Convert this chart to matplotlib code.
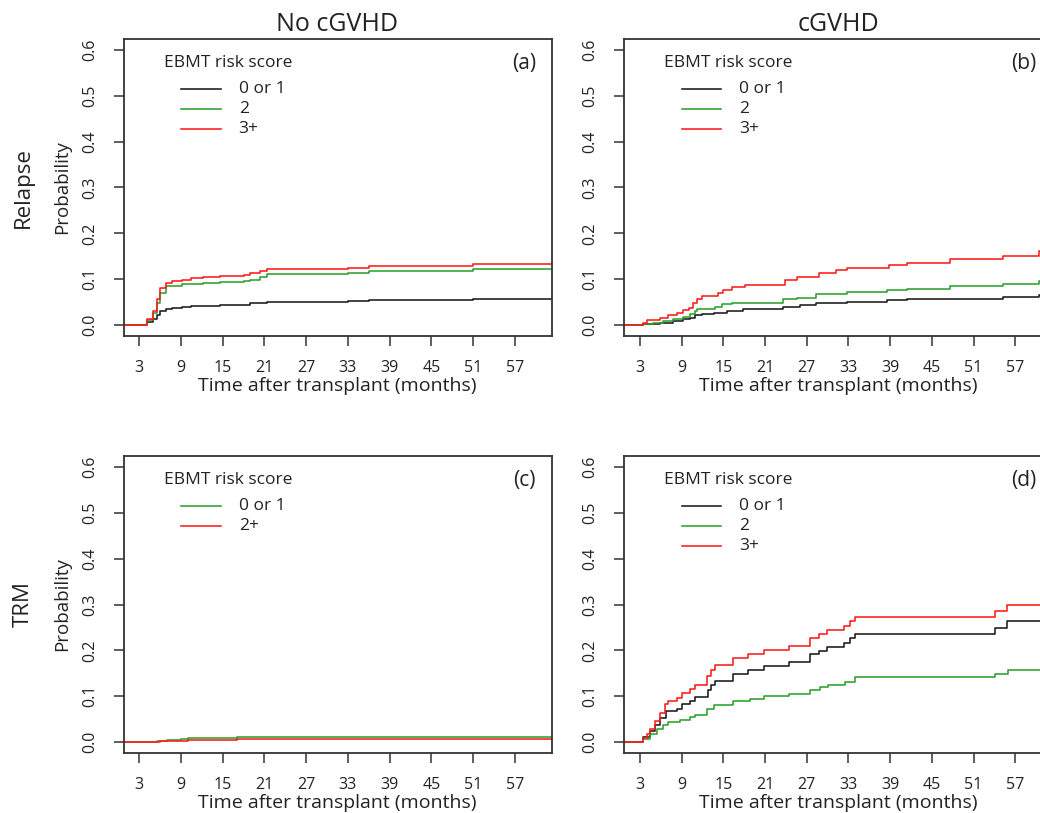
import numpy as np
import matplotlib
matplotlib.use("Agg")
import matplotlib.pyplot as plt

plt.rcParams['font.family'] = ['Open Sans', 'DejaVu Sans']

# cumulative incidence step curves: (months, probability)
# (a) relapse, no cGVHD
rel_no_t0 = [0, 3.35, 4.06, 5.0, 5.5, 6.0, 6.9, 7.7, 9.1, 10.5, 12.2, 14.6, 18.0, 18.9, 20.4, 21.3, 33.0, 36.0, 51.0, 63]
rel_no_v0 = [0, 0.0, 0.007, 0.012, 0.021, 0.030, 0.035, 0.038, 0.040, 0.041, 0.042, 0.043, 0.044, 0.047, 0.049, 0.051, 0.052, 0.054, 0.056, 0.056]
rel_no_t2 = [0, 3.35, 4.06, 5.0, 5.5, 6.0, 6.9, 7.7, 9.1, 10.5, 12.2, 14.6, 18.0, 18.9, 20.4, 21.3, 33.0, 36.0, 51.0, 63]
rel_no_v2 = [0, 0.0, 0.010, 0.026, 0.048, 0.070, 0.084, 0.085, 0.089, 0.090, 0.092, 0.094, 0.095, 0.098, 0.104, 0.111, 0.114, 0.117, 0.122, 0.122]
rel_no_t3 = [0, 3.35, 4.06, 5.0, 5.5, 6.0, 6.9, 7.7, 9.1, 10.5, 12.2, 14.6, 18.0, 18.9, 20.4, 21.3, 33.0, 36.0, 51.0, 63]
rel_no_v3 = [0, 0.0, 0.012, 0.030, 0.056, 0.081, 0.092, 0.095, 0.099, 0.103, 0.104, 0.106, 0.110, 0.114, 0.118, 0.122, 0.125, 0.128, 0.133, 0.133]

# (b) relapse, cGVHD
rel_cg_t0 = [0, 3.4, 5.9, 7.8, 9.2, 10.2, 10.9, 11.9, 13.6, 15.5, 17.9, 23.6, 26.0, 28.4, 32.8, 38.5, 41.4, 47.6, 55.3, 60.4, 63]
rel_cg_v0 = [0, 0.002, 0.005, 0.009, 0.012, 0.016, 0.021, 0.023, 0.027, 0.030, 0.034, 0.039, 0.043, 0.047, 0.050, 0.054, 0.056, 0.057, 0.061, 0.065, 0.065]
rel_cg_t2 = [0, 3.4, 4.9, 6.4, 7.8, 9.2, 10.2, 10.9, 11.2, 13.8, 14.8, 16.2, 23.6, 25.6, 28.4, 32.8, 38.5, 41.4, 47.6, 55.3, 60.4, 63]
rel_cg_v2 = [0, 0.003, 0.005, 0.009, 0.012, 0.017, 0.023, 0.030, 0.034, 0.040, 0.045, 0.048, 0.056, 0.059, 0.068, 0.072, 0.076, 0.079, 0.085, 0.090, 0.096, 0.096]
rel_cg_t3 = [0, 3.4, 4.1, 5.9, 7.1, 8.3, 9.2, 10.0, 10.7, 11.2, 11.9, 14.3, 15.0, 16.2, 18.1, 23.9, 25.6, 28.7, 31.2, 32.8, 38.8, 41.4, 47.6, 55.3, 60.4, 63]
rel_cg_v3 = [0, 0.005, 0.011, 0.016, 0.021, 0.027, 0.032, 0.038, 0.048, 0.056, 0.063, 0.070, 0.076, 0.083, 0.088, 0.098, 0.104, 0.114, 0.119, 0.124, 0.130, 0.135, 0.143, 0.151, 0.161, 0.161]

# (c) TRM, no cGVHD
trm_no_t0 = [0, 5.5, 7.0, 9.0, 10.0, 17.0, 63]
trm_no_v0 = [0, 0.002, 0.004, 0.007, 0.008, 0.012, 0.012]
trm_no_t2 = [0, 6.0, 8.0, 10.0, 17.0, 63]
trm_no_v2 = [0, 0.002, 0.003, 0.005, 0.006, 0.006]

# (d) TRM, cGVHD
trm_cg_t0 = [0, 3.5, 4.4, 5.2, 5.9, 6.8, 8.3, 9.0, 10.2, 10.9, 12.8, 13.3, 13.8, 16.4, 18.6, 20.8, 24.4, 27.5, 28.7, 29.9, 32.3, 33.2, 34.0, 54.1, 55.8, 63]
trm_cg_v0 = [0, 0.010, 0.024, 0.038, 0.053, 0.067, 0.072, 0.082, 0.089, 0.099, 0.114, 0.125, 0.134, 0.149, 0.158, 0.165, 0.174, 0.191, 0.199, 0.207, 0.217, 0.227, 0.236, 0.249, 0.263, 0.263]
trm_cg_t2 = [0, 3.5, 4.4, 5.4, 6.4, 7.1, 8.8, 10.2, 10.9, 12.6, 13.6, 16.4, 18.8, 20.8, 24.4, 27.5, 28.9, 30.1, 32.5, 34.0, 54.1, 56.0, 63]
trm_cg_v2 = [0, 0.006, 0.017, 0.028, 0.038, 0.043, 0.049, 0.054, 0.060, 0.071, 0.080, 0.089, 0.094, 0.100, 0.105, 0.114, 0.120, 0.125, 0.131, 0.141, 0.149, 0.158, 0.158]
trm_cg_t3 = [0, 3.5, 4.0, 4.4, 5.2, 5.9, 6.6, 7.1, 8.3, 9.0, 10.2, 10.9, 12.6, 13.3, 13.8, 16.4, 18.6, 20.8, 24.4, 27.5, 28.7, 29.9, 32.3, 33.2, 34.0, 54.1, 55.8, 63]
trm_cg_v3 = [0, 0.008, 0.017, 0.029, 0.046, 0.064, 0.082, 0.089, 0.096, 0.107, 0.116, 0.125, 0.143, 0.158, 0.167, 0.183, 0.192, 0.201, 0.209, 0.227, 0.236, 0.245, 0.254, 0.263, 0.272, 0.285, 0.298, 0.298]

BLACK = '#1a1a1a'
GREEN = '#2ca02c'
RED = '#ff1a1a'
TXT = '#222222'

x_ticks = np.arange(3, 58, 6)
y_ticks = np.round(np.arange(0, 0.61, 0.1), 1)

fig = plt.figure(figsize=(10.4, 8.13), dpi=100)

W, H = 1040.0, 813.0
def box(x0, y0, x1, y1):
    return [x0 / W, (H - y1) / H, (x1 - x0) / W, (y1 - y0) / H]

ax_a = fig.add_axes(box(123.5, 39, 551.5, 336))
ax_b = fig.add_axes(box(624, 39, 1052, 336))
ax_c = fig.add_axes(box(123.5, 456, 551.5, 753))
ax_d = fig.add_axes(box(624, 456, 1052, 753))

panels = [
    (ax_a, '(a)', [(rel_no_t0, rel_no_v0, BLACK, '0 or 1'), (rel_no_t2, rel_no_v2, GREEN, '2'), (rel_no_t3, rel_no_v3, RED, '3+')]),
    (ax_b, '(b)', [(rel_cg_t0, rel_cg_v0, BLACK, '0 or 1'), (rel_cg_t2, rel_cg_v2, GREEN, '2'), (rel_cg_t3, rel_cg_v3, RED, '3+')]),
    (ax_c, '(c)', [(trm_no_t0, trm_no_v0, GREEN, '0 or 1'), (trm_no_t2, trm_no_v2, RED, '2+')]),
    (ax_d, '(d)', [(trm_cg_t0, trm_cg_v0, BLACK, '0 or 1'), (trm_cg_t2, trm_cg_v2, GREEN, '2'), (trm_cg_t3, trm_cg_v3, RED, '3+')]),
]

# key rows, in axes fraction (R-style legend: title then indented line + label)
key_rows = [0.832, 0.764, 0.697]

for ax, tag, curves in panels:
    for i, (t, v, col, lab) in enumerate(curves):
        ax.plot(t, v, drawstyle='steps-post', color=col, lw=1.15)
        ky = key_rows[i]
        ax.plot([0.1355, 0.227], [ky, ky], transform=ax.transAxes, color=col, lw=1.15)
        ax.text(0.269, ky, lab, transform=ax.transAxes, ha='left', va='center', fontsize=12.5, color=TXT)
    ax.set_xlim(0.72, 62.28)
    ax.set_ylim(-0.024, 0.624)
    ax.set_xticks(x_ticks)
    ax.set_yticks(y_ticks)
    ax.set_yticklabels(['%.1f' % y for y in y_ticks], rotation=90, va='center')
    ax.tick_params(axis='both', direction='out', length=7, width=1.1, colors='#333333',
                   labelcolor=TXT, labelsize=11.5)
    ax.tick_params(axis='y', pad=11.5)
    ax.tick_params(axis='x', pad=10)
    for s in ax.spines.values():
        s.set_linewidth(1.3)
        s.set_color('#333333')
    ax.set_xlabel('Time after transplant (months)', fontsize=14, color=TXT)
    ax.xaxis.set_label_coords(0.5, -0.168)
    ax.xaxis.label.set_va('center')
    ax.text(0.964, 0.919, tag, transform=ax.transAxes, ha='right', va='center', fontsize=15, color=TXT)
    ax.text(0.0935, 0.919, 'EBMT risk score', transform=ax.transAxes, ha='left', va='center',
            fontsize=12.5, color=TXT)

fig.text(337.5 / W, 1 - 24.5 / H, 'No cGVHD', ha='center', va='center', fontsize=18, color=TXT)
fig.text(838 / W, 1 - 24.5 / H, 'cGVHD', ha='center', va='center', fontsize=18, color=TXT)
fig.text(23 / W, 1 - 187.5 / H, 'Relapse', rotation=90, ha='center', va='center', fontsize=16, color=TXT)
fig.text(23 / W, 1 - 604.5 / H, 'TRM', rotation=90, ha='center', va='center', fontsize=16, color=TXT)
fig.text(62 / W, 1 - 187.5 / H, 'Probability', rotation=90, ha='center', va='center', fontsize=13.5, color=TXT)
fig.text(62 / W, 1 - 604.5 / H, 'Probability', rotation=90, ha='center', va='center', fontsize=13.5, color=TXT)

fig.savefig('out.png', dpi=100)
